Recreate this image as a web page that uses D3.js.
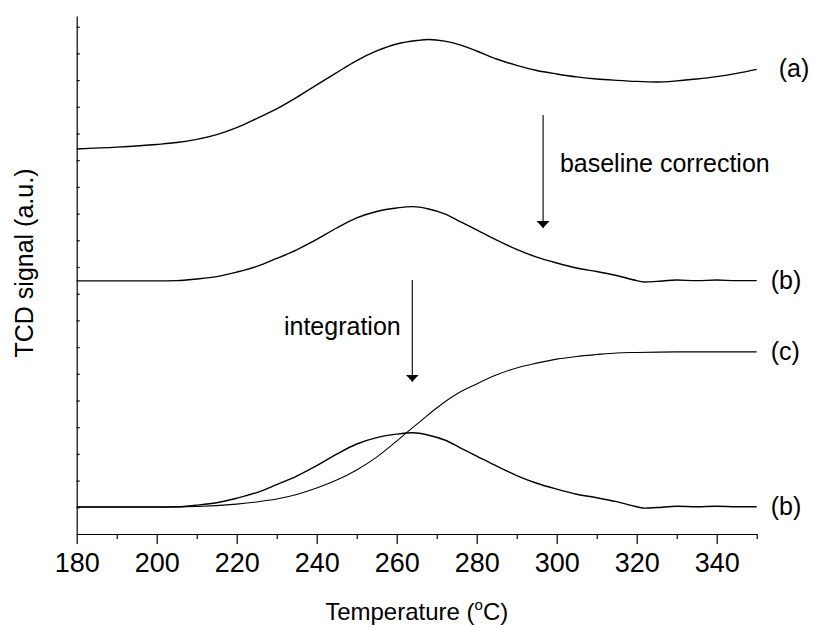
<!DOCTYPE html>
<html>
<head>
<meta charset="utf-8">
<script src="https://cdn.jsdelivr.net/npm/d3@7"></script>
<style>
    body { margin: 0; background: #fff; }
    svg { display: block; font-family: "Liberation Sans", Arial, sans-serif; }
</style>
</head>
<body>
<svg id="chart" width="813" height="628"></svg>
<script>
// curve (a): raw TCD signal
const tempA = [180, 190, 200, 205, 210, 215, 220, 225, 230, 235, 240, 245, 250, 255, 260, 265, 268,
    272, 276, 280, 285, 290, 295, 300, 305, 310, 315, 320, 325, 330, 335, 340, 345, 350];
const sigA = [14.42, 14.49, 14.59, 14.66, 14.78, 14.96, 15.22, 15.56, 15.92, 16.35, 16.82, 17.28, 17.73,
    18.09, 18.35, 18.48, 18.52, 18.46, 18.31, 18.09, 17.79, 17.55, 17.36, 17.23, 17.12, 17.04, 16.99,
    16.95, 16.93, 16.97, 17.04, 17.13, 17.25, 17.40];

// curve (b): after baseline correction (drawn twice, second copy shifted down)
const tempB = [180, 190, 200, 205, 210, 215, 220, 225, 230, 235, 240, 245, 250, 255, 260, 264, 268,
    272, 276, 280, 285, 290, 295, 300, 305, 310, 315, 320, 322, 325, 330, 335, 340, 345, 350];
const sigB = [9.48, 9.48, 9.48, 9.49, 9.55, 9.64, 9.81, 10.02, 10.32, 10.64, 11.03, 11.46, 11.84, 12.08,
    12.21, 12.26, 12.17, 11.99, 11.69, 11.39, 11.01, 10.66, 10.37, 10.15, 9.96, 9.83, 9.68, 9.49, 9.44,
    9.46, 9.51, 9.49, 9.51, 9.49, 9.49];
const offsetB = 8.47;

// curve (c): integrated signal
const tempC = [180, 200, 210, 220, 225, 230, 235, 240, 245, 250, 255, 260, 263, 266, 270, 275, 280,
    285, 290, 295, 300, 305, 310, 315, 320, 330, 340, 350];
const sigC = [1.01, 1.01, 1.03, 1.12, 1.20, 1.31, 1.48, 1.72, 2.02, 2.40, 2.88, 3.48, 3.86, 4.23, 4.72,
    5.24, 5.62, 5.96, 6.22, 6.40, 6.55, 6.65, 6.72, 6.78, 6.80, 6.82, 6.82, 6.82];

const xMajor = d3.range(180, 351, 20);
const xMinor = d3.range(190, 351, 20);
const yTicks = d3.range(0, 20);

const svg = d3.select('#chart');

const x = d3.scaleLinear()
    .domain([180, 350])
    .range([76.7, 756.7]);

const y = d3.scaleLinear()
    .domain([0, 19.4])
    .range([534, 16]);

// axes
const minorAxis = svg.append('g')
    .attr('transform', 'translate(0,534)')
    .call(d3.axisBottom(x).tickValues(xMinor).tickSize(5).tickSizeOuter(0).tickFormat(''));
minorAxis.select('.domain').remove();

const xAxis = svg.append('g')
    .attr('transform', 'translate(0,534)')
    .call(d3.axisBottom(x).tickValues(xMajor).tickSize(10).tickPadding(9).tickSizeOuter(0));

xAxis.selectAll('text')
    .attr('font-size', 27)
    .attr('font-family', '"Liberation Sans", Arial, sans-serif')
    .attr('fill', '#000');

const yAxis = svg.append('g')
    .attr('transform', 'translate(76.7,0)')
    .call(d3.axisLeft(y).tickValues(yTicks).tickSize(-3).tickSizeOuter(0).tickFormat(''));

svg.selectAll('.domain, .tick line')
    .attr('stroke', '#000')
    .attr('stroke-width', 1.2);

// axis titles
const xTitle = svg.append('text')
    .attr('x', (x.range()[0] + x.range()[1]) / 2)
    .attr('y', 620)
    .attr('text-anchor', 'middle')
    .attr('font-size', 24);
xTitle.append('tspan').text('Temperature (');
xTitle.append('tspan').attr('font-size', 15).attr('dy', -10).text('o');
xTitle.append('tspan').attr('dy', 10).text('C)');

svg.append('text')
    .attr('transform', 'translate(33,263) rotate(-90)')
    .attr('text-anchor', 'middle')
    .attr('font-size', 25)
    .text('TCD signal (a.u.)');

// curves
const line = d3.line()
    .x((d) => x(d[0]))
    .y((d) => y(d[1]))
    .curve(d3.curveMonotoneX);

const series = [
    {pts: tempA.map((t, i) => [t, sigA[i]]), width: 1.4},
    {pts: tempB.map((t, i) => [t, sigB[i]]), width: 1.4},
    {pts: tempB.map((t, i) => [t, sigB[i] - offsetB]), width: 1.4},
    {pts: tempC.map((t, i) => [t, sigC[i]]), width: 1.1}
];

svg.append('g')
  .selectAll('path')
  .data(series)
  .enter()
  .append('path')
    .attr('d', (d) => line(d.pts))
    .attr('fill', 'none')
    .attr('stroke', '#000')
    .attr('stroke-width', (d) => d.width);

// curve labels
const labels = [
    {text: '(a)', v: sigA[sigA.length - 1], dx: 22, dy: 8},
    {text: '(b)', v: sigB[sigB.length - 1], dx: 14, dy: 8},
    {text: '(c)', v: sigC[sigC.length - 1], dx: 14, dy: 8},
    {text: '(b)', v: sigB[sigB.length - 1] - offsetB, dx: 14, dy: 8}
];

svg.append('g')
  .selectAll('text')
  .data(labels)
  .enter()
  .append('text')
    .attr('x', (d) => x(350) + d.dx)
    .attr('y', (d) => y(d.v) + d.dy)
    .attr('font-size', 25)
    .text((d) => d.text);

// annotation arrows
const defs = svg.append('defs');
defs.append('marker')
    .attr('id', 'arrowhead')
    .attr('viewBox', '0 0 10 10')
    .attr('refX', 10)
    .attr('refY', 5)
    .attr('markerUnits', 'userSpaceOnUse')
    .attr('markerWidth', 7)
    .attr('markerHeight', 13)
    .attr('orient', 'auto')
    .attr('preserveAspectRatio', 'none')
  .append('path')
    .attr('d', 'M0,0L10,5L0,10Z')
    .attr('fill', '#000');

const arrows = [
    {t: 296.6, from: 15.69, to: 11.46},
    {t: 263.9, from: 9.51, to: 5.70}
];

svg.append('g')
  .selectAll('line')
  .data(arrows)
  .enter()
  .append('line')
    .attr('x1', (d) => x(d.t))
    .attr('x2', (d) => x(d.t))
    .attr('y1', (d) => y(d.from))
    .attr('y2', (d) => y(d.to))
    .attr('stroke', '#000')
    .attr('stroke-width', 1.1)
    .attr('marker-end', 'url(#arrowhead)');

svg.append('text')
    .attr('x', x(300.8))
    .attr('y', y(13.56))
    .attr('font-size', 25)
    .text('baseline correction');

svg.append('text')
    .attr('x', x(261.0))
    .attr('y', y(7.45))
    .attr('text-anchor', 'end')
    .attr('font-size', 25)
    .text('integration');
</script>
</body>
</html>
